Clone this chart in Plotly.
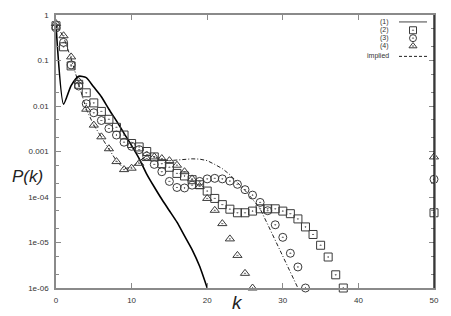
import plotly.graph_objects as go

# ---- data ----
k1 = list(range(0, 21))
p1 = [0.6, 0.011, 0.028, 0.045, 0.042, 0.026, 0.016, 0.0085, 0.0047, 0.0025,
      0.00135, 0.0007, 0.00032, 0.000166, 8.9e-5, 5e-5, 2.8e-5, 1.4e-5, 7e-6, 3e-6, 1e-6]

k2 = list(range(0, 39)) + [50]
p2 = [0.58, 0.2, 0.076, 0.03, 0.0195, 0.0117, 0.0076, 0.0051, 0.0034, 0.0023,
      0.0015, 0.00126, 0.001, 0.00076, 0.00054, 0.00045, 0.00033, 0.00029, 0.00024, 0.000186,
      0.000135, 9.3e-5, 6.8e-5, 5.4e-5, 4.5e-5, 4.5e-5, 4.9e-5, 5.5e-5, 5.5e-5, 5.5e-5,
      4.9e-5, 4.3e-5, 3.3e-5, 2.2e-5, 1.5e-5, 8.7e-6, 4.8e-6, 1.95e-6, 1e-6, 4.5e-5]

k3 = list(range(0, 34)) + [50]
p3 = [0.52, 0.25, 0.08, 0.0275, 0.0112, 0.0071, 0.0048, 0.0032, 0.0023, 0.0016,
      0.0013, 0.0011, 0.00079, 0.00052, 0.00036, 0.00022, 0.000162, 0.000158, 0.000182, 0.00022,
      0.00025, 0.000257, 0.00025, 0.000224, 0.00019, 0.000145, 0.00011, 7.6e-5, 5e-5, 2.45e-5,
      1.3e-5, 5.8e-6, 2.9e-6, 1e-6, 0.000245]

k4 = list(range(0, 27)) + [50]
p4 = [0.65, 0.35, 0.12, 0.035, 0.0085, 0.0038, 0.0021, 0.00115, 0.0006, 0.0004,
      0.00043, 0.00055, 0.0007, 0.00076, 0.0007, 0.00063, 0.0005, 0.00036, 0.00025, 0.00017,
      9.3e-5, 5.1e-5, 2.6e-5, 1.2e-5, 5.2e-6, 2.1e-6, 1e-6, 0.00076]

k_imp = list(range(0, 33))
p_imp = [0.62, 0.33, 0.11, 0.032, 0.0085, 0.0038, 0.0021, 0.00115, 0.00062, 0.00042,
         0.00045, 0.0006, 0.00085, 0.00076, 0.00066, 0.00063, 0.00065, 0.00068, 0.00069, 0.00068,
         0.00063, 0.00052, 0.00042, 0.00031, 0.00021, 0.00014, 8.9e-5, 5.5e-5, 2.5e-5, 1.1e-5,
         5e-6, 2.2e-6, 1e-6]

legend_labels = ["(1)", "(2)", "(3)", "(4)", "implied"]
x_ticks = [0, 10, 20, 30, 40, 50]
y_ticks = [1e-6, 1e-5, 1e-4, 1e-3, 1e-2, 1e-1, 1]
y_ticktext = ["1e-06", "1e-05", "1e-04", "0.001", "0.01", "0.1", "1"]

MK = "#3a3a3a"
AX = "#8a8a8a"

# page body has an 8px margin: figure is placed at (8, 8)
W, H = 443, 308
L, R, T, B = 48, 17, 3, 28
PW, PH = W - L - R, H - T - B


def px_to_paper(px, py):
    """page pixel -> paper coords"""
    return ((px - 8 - L) / PW, 1 - (py - 8 - T) / PH)


fig = go.Figure()
fig.add_trace(go.Scatter(x=k_imp, y=p_imp, mode="lines",
                         line=dict(color="#222", width=1, dash="4px,2px,1px,2px"),
                         showlegend=False))
fig.add_trace(go.Scatter(x=k1, y=p1, mode="lines",
                         line=dict(color="black", width=1.6, shape="spline", smoothing=0.6),
                         showlegend=False))
fig.add_trace(go.Scatter(x=k2, y=p2, mode="markers", cliponaxis=False,
                         marker=dict(symbol="square-open-dot", size=8, color=MK, line=dict(width=1, color=MK)),
                         showlegend=False))
fig.add_trace(go.Scatter(x=k3, y=p3, mode="markers", cliponaxis=False,
                         marker=dict(symbol="circle-open-dot", size=8, color=MK, line=dict(width=1, color=MK)),
                         showlegend=False))
fig.add_trace(go.Scatter(x=k4, y=p4, mode="markers", cliponaxis=False,
                         marker=dict(symbol="triangle-up-open-dot", size=8, color=MK, line=dict(width=1, color=MK)),
                         showlegend=False))

# ---- manual gnuplot-style legend (text left, sample right) ----
leg_py = [18, 26.5, 34.5, 42.5, 53]
leg_y = [px_to_paper(0, p)[1] for p in leg_py]
sx0 = px_to_paper(399, 0)[0]
sx1 = px_to_paper(427, 0)[0]
sxm = px_to_paper(413, 0)[0]
fig.add_trace(go.Scatter(x=[sx0, sx1], y=[leg_y[0]] * 2, xaxis="x2", yaxis="y2", mode="lines",
                         line=dict(color=AX, width=1.6), showlegend=False, hoverinfo="skip"))
fig.add_trace(go.Scatter(x=[sxm], y=[leg_y[1]], xaxis="x2", yaxis="y2", mode="markers",
                         marker=dict(symbol="square-open-dot", size=7, color=MK, line=dict(width=1, color=MK)),
                         showlegend=False, hoverinfo="skip"))
fig.add_trace(go.Scatter(x=[sxm], y=[leg_y[2]], xaxis="x2", yaxis="y2", mode="markers",
                         marker=dict(symbol="circle-open-dot", size=7, color=MK, line=dict(width=1, color=MK)),
                         showlegend=False, hoverinfo="skip"))
fig.add_trace(go.Scatter(x=[sxm], y=[leg_y[3]], xaxis="x2", yaxis="y2", mode="markers",
                         marker=dict(symbol="triangle-up-open-dot", size=7, color=MK, line=dict(width=1, color=MK)),
                         showlegend=False, hoverinfo="skip"))
fig.add_trace(go.Scatter(x=[sx0, sx1], y=[leg_y[4]] * 2, xaxis="x2", yaxis="y2", mode="lines",
                         line=dict(color="#222", width=1, dash="3px,2px"), showlegend=False, hoverinfo="skip"))

annotations = []
lx = px_to_paper(391, 0)[0]
for lab, yy in zip(legend_labels, leg_y):
    annotations.append(dict(x=lx, y=yy, xref="paper", yref="paper", text=lab, showarrow=False,
                            xanchor="right", yanchor="middle", font=dict(size=7, color="#333")))
pkx, pky = px_to_paper(27, 175)
annotations.append(dict(x=pkx, y=pky, xref="paper", yref="paper", text="<i>P(k)</i>",
                        showarrow=False, xanchor="center", yanchor="middle",
                        font=dict(size=17, color="#222")))
kx, ky = px_to_paper(237, 303)
annotations.append(dict(x=kx, y=ky, xref="paper", yref="paper", text="<i>k</i>",
                        showarrow=False, xanchor="center", yanchor="middle",
                        font=dict(size=19, color="#222")))

minor_y = []
for e in range(-6, 0):
    minor_y += [2 * 10 ** e, 5 * 10 ** e]

fig.update_layout(
    width=W, height=H,
    margin=dict(l=L, r=R, t=T, b=B),
    paper_bgcolor="white", plot_bgcolor="white",
    font=dict(family="Liberation Sans, Arial, sans-serif", size=8, color="#333"),
    xaxis=dict(range=[0, 50], tickvals=x_ticks, ticks="inside", ticklen=5, tickcolor=AX,
               showline=True, linecolor=AX, linewidth=1.5, mirror="ticks", showgrid=False, zeroline=False,
               tickfont=dict(size=8, color="#333"), ticklabelstandoff=4),
    yaxis=dict(type="log", range=[-6, 0], tickvals=y_ticks, ticktext=y_ticktext, ticks="inside", ticklen=5,
               tickcolor=AX, showline=True, linecolor=AX, linewidth=1.5, mirror="ticks", showgrid=False,
               zeroline=False, tickfont=dict(size=8, color="#333"), ticklabelstandoff=4,
               minor=dict(tickvals=minor_y, ticks="inside", ticklen=3, tickcolor=AX, showgrid=False)),
    xaxis2=dict(overlaying="x", range=[0, 1], visible=False),
    yaxis2=dict(overlaying="y", range=[0, 1], visible=False),
    annotations=annotations,
    shapes=[dict(type="line", xref="paper", yref="paper", x0=1, x1=1, y0=0, y1=1,
                 line=dict(color="black", width=1.2))],
)

fig.write_html("out.html")
